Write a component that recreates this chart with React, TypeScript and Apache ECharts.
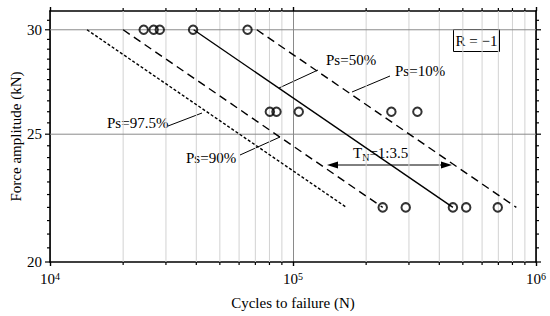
import React, { useEffect, useRef } from "react";
import * as echarts from "echarts";

const FONT = "Liberation Serif, serif";

// Test results: cycles to failure at each force amplitude (kN)
const forceLevels = [30, 26, 22];
const cyclesAt30kN = [2.43e4, 2.67e4, 2.83e4, 3.88e4, 6.5e4];
const cyclesAt26kN = [8.03e4, 8.55e4, 1.056e5, 2.54e5, 3.25e5];
const cyclesAt22kN = [2.34e5, 2.91e5, 4.55e5, 5.16e5, 6.96e5];

// P-S-N curves (end points at 30 kN and 22 kN)
const curveForces = [30, 22];
const ps50Cycles = [3.9e4, 4.55e5];
const ps10Cycles = [7.1e4, 8.3e5];
const ps90Cycles = [2.0e4, 2.34e5];
const ps975Cycles = [1.42e4, 1.66e5];

// Axis ticks
const xMinorTicks = [2e4, 3e4, 4e4, 5e4, 6e4, 7e4, 8e4, 9e4, 2e5, 3e5, 4e5, 5e5, 6e5, 7e5, 8e5, 9e5];
const yTickLabels = [20, 25, 30];
const yMinorTicks = [20.5, 21, 21.5, 22, 22.5, 23, 23.5, 24, 24.5, 25.5, 26, 26.5, 27, 27.5, 28, 28.5, 29, 29.5, 30.5];
const yGridLines = [25, 30];

const X_MIN = 1e4;
const X_MAX = 1e6;
const Y_MIN = 20;
const Y_MAX = 31;

const pts = (cycles: number[], f: number) => cycles.map((c) => [c, f]);
const curve = (cycles: number[]) => cycles.map((c, i) => [c, curveForces[i]]);

export default function App() {
  const ref = useRef<HTMLDivElement>(null);
  useEffect(() => {
    if (!ref.current) return;
    const chart = echarts.init(ref.current, undefined, { renderer: "svg" });
    const tickStyle = { stroke: "#000", lineWidth: 1.2 };
    const lineSeries = (name: string, cycles: number[], type: any) => ({
      name,
      type: "line",
      data: curve(cycles),
      symbol: "none",
      z: 3,
      lineStyle: { color: "#000", width: 1.4, type },
      silent: true,
    });
    const scatterData = [
      ...pts(cyclesAt30kN, forceLevels[0]),
      ...pts(cyclesAt26kN, forceLevels[1]),
      ...pts(cyclesAt22kN, forceLevels[2]),
    ];
    const txt = (text: string, x: number, y: number) => ({
      type: "text",
      style: {
        text,
        x,
        y,
        fontFamily: FONT,
        fontSize: 15,
        fill: "#000",
        verticalAlign: "middle",
        textVerticalAlign: "middle",
      },
    });
    const option: any = {
      animation: false,
      backgroundColor: "#fff",
      textStyle: { fontFamily: FONT },
      grid: { left: 48, top: 11, width: 488, height: 251, containLabel: false },
      xAxis: [
        {
          type: "log",
          logBase: 10,
          min: X_MIN,
          max: X_MAX,
          position: "bottom",
          name: "Cycles to failure (N)",
          nameLocation: "middle",
          nameGap: 33,
          nameTextStyle: { fontFamily: FONT, fontSize: 15, color: "#000" },
          axisLine: { show: true, onZero: false, lineStyle: { color: "#000", width: 1.6 } },
          axisTick: { show: true, inside: false, length: 4, lineStyle: { color: "#000", width: 1.4 } },
          splitLine: { show: true, lineStyle: { color: "#8a8a8a", width: 1 } },
          minorTick: { show: false },
          axisLabel: {
            margin: 9,
            showMinLabel: true,
            showMaxLabel: true,
            formatter: (v: number) => `{b|10}{s|${Math.round(Math.log10(v))}}`,
            rich: {
              b: { fontFamily: FONT, fontSize: 15, color: "#000", lineHeight: 16 },
              s: { fontFamily: FONT, fontSize: 10, color: "#000", lineHeight: 9, verticalAlign: "top" },
            },
          },
        },
        {
          type: "log",
          logBase: 10,
          min: X_MIN,
          max: X_MAX,
          position: "top",
          axisLine: { show: true, onZero: false, lineStyle: { color: "#000", width: 1.6 } },
          axisTick: { show: true, inside: false, length: 4, lineStyle: { color: "#000", width: 1.4 } },
          splitLine: { show: false },
          axisLabel: { show: false },
        },
      ],
      yAxis: [
        {
          type: "log",
          logBase: 10,
          min: Y_MIN,
          max: Y_MAX,
          position: "left",
          name: "Force amplitude (kN)",
          nameLocation: "middle",
          nameGap: 27,
          nameTextStyle: { fontFamily: FONT, fontSize: 15, color: "#000" },
          axisLine: { show: true, onZero: false, lineStyle: { color: "#000", width: 1.6 } },
          axisTick: { show: false },
          axisLabel: { show: false },
          splitLine: { show: false },
        },
        {
          type: "log",
          logBase: 10,
          min: Y_MIN,
          max: Y_MAX,
          position: "right",
          axisLine: { show: true, onZero: false, lineStyle: { color: "#000", width: 1.6 } },
          axisTick: { show: false },
          axisLabel: { show: false },
          splitLine: { show: false },
        },
      ],
      series: [
        {
          type: "custom",
          silent: true,
          clip: false,
          z: 1,
          data: xMinorTicks.map((v) => [v, Y_MIN]),
          renderItem: (_p: any, api: any) => {
            const v = api.value(0);
            const b = api.coord([v, Y_MIN]);
            const t = api.coord([v, Y_MAX]);
            return {
              type: "group",
              children: [
                { type: "line", shape: { x1: b[0], y1: t[1], x2: b[0], y2: b[1] }, style: { stroke: "#d2d2d2", lineWidth: 1 } },
                { type: "line", shape: { x1: b[0], y1: b[1], x2: b[0], y2: b[1] + 3 }, style: tickStyle },
                { type: "line", shape: { x1: t[0], y1: t[1] - 3, x2: t[0], y2: t[1] }, style: tickStyle },
              ],
            };
          },
        },
        {
          type: "custom",
          silent: true,
          clip: false,
          z: 1,
          data: yGridLines.map((v) => [X_MIN, v]),
          renderItem: (_p: any, api: any) => {
            const v = api.value(1);
            const l = api.coord([X_MIN, v]);
            const r = api.coord([X_MAX, v]);
            return { type: "line", shape: { x1: l[0], y1: l[1], x2: r[0], y2: r[1] }, style: { stroke: "#8a8a8a", lineWidth: 1 } };
          },
        },
        {
          type: "custom",
          silent: true,
          clip: false,
          z: 5,
          data: yMinorTicks.map((v) => [X_MIN, v]),
          renderItem: (_p: any, api: any) => {
            const v = api.value(1);
            const l = api.coord([X_MIN, v]);
            const r = api.coord([X_MAX, v]);
            return {
              type: "group",
              children: [
                { type: "line", shape: { x1: l[0] - 3, y1: l[1], x2: l[0], y2: l[1] }, style: tickStyle },
                { type: "line", shape: { x1: r[0], y1: r[1], x2: r[0] + 3, y2: r[1] }, style: tickStyle },
              ],
            };
          },
        },
        {
          type: "custom",
          silent: true,
          clip: false,
          z: 5,
          data: yTickLabels.map((v) => [X_MIN, v]),
          renderItem: (_p: any, api: any) => {
            const v = api.value(1);
            const l = api.coord([X_MIN, v]);
            const r = api.coord([X_MAX, v]);
            return {
              type: "group",
              children: [
                { type: "line", shape: { x1: l[0] - 5, y1: l[1], x2: l[0], y2: l[1] }, style: tickStyle },
                { type: "line", shape: { x1: r[0], y1: r[1], x2: r[0] + 5, y2: r[1] }, style: tickStyle },
                {
                  type: "text",
                  style: {
                    text: String(v),
                    x: l[0] - 8,
                    y: l[1],
                    align: "right",
                    verticalAlign: "middle",
                    textAlign: "right",
                    textVerticalAlign: "middle",
                    fontFamily: FONT,
                    fontSize: 15,
                    fill: "#000",
                  },
                },
              ],
            };
          },
        },
        lineSeries("Ps=97.5%", ps975Cycles, [3, 2]),
        lineSeries("Ps=90%", ps90Cycles, [8, 5]),
        lineSeries("Ps=50%", ps50Cycles, "solid"),
        lineSeries("Ps=10%", ps10Cycles, [8, 5]),
        {
          name: "Tests",
          type: "scatter",
          z: 4,
          symbol: "circle",
          symbolSize: 8.5,
          data: scatterData,
          itemStyle: { color: "rgba(255,255,255,0)", borderColor: "#000", borderWidth: 2 },
          silent: true,
        },
      ],
      graphic: [
        txt("Ps=50%", 326, 60),
        { type: "line", shape: { x1: 318, y1: 70, x2: 279, y2: 88 }, style: { stroke: "#000", lineWidth: 1 } },
        txt("Ps=10%", 395, 71),
        { type: "line", shape: { x1: 390, y1: 76, x2: 352, y2: 92 }, style: { stroke: "#000", lineWidth: 1 } },
        txt("Ps=97.5%", 107, 123),
        { type: "line", shape: { x1: 168, y1: 126, x2: 202, y2: 113 }, style: { stroke: "#000", lineWidth: 1 } },
        txt("Ps=90%", 186, 158),
        { type: "line", shape: { x1: 240, y1: 155, x2: 280, y2: 137 }, style: { stroke: "#000", lineWidth: 1 } },
        {
          type: "text",
          style: {
            text: "{t|T}{n|N}{t|=1:3.5}",
            x: 353,
            y: 153,
            verticalAlign: "middle",
            textVerticalAlign: "middle",
            rich: {
              t: { fontFamily: FONT, fontSize: 15, fill: "#000", color: "#000", lineHeight: 18 },
              n: { fontFamily: FONT, fontSize: 10, fill: "#000", color: "#000", lineHeight: 11, verticalAlign: "bottom" },
            },
          },
        },
        { type: "line", shape: { x1: 332, y1: 165, x2: 447, y2: 165 }, style: { stroke: "#000", lineWidth: 1 } },
        { type: "polygon", shape: { points: [[327, 165], [338, 161.5], [338, 168.5]] }, style: { fill: "#000" } },
        { type: "polygon", shape: { points: [[452, 165], [441, 161.5], [441, 168.5]] }, style: { fill: "#000" } },
        {
          type: "group",
          z: 10,
          children: [
            { type: "rect", shape: { x: 453.5, y: 29.5, width: 46, height: 22 }, style: { fill: "#fff", stroke: "#000", lineWidth: 1 } },
            {
              type: "text",
              style: {
                text: "R = \u22121",
                x: 476.5,
                y: 40.5,
                align: "center",
                verticalAlign: "middle",
                textAlign: "center",
                textVerticalAlign: "middle",
                fontFamily: FONT,
                fontSize: 15,
                fill: "#000",
              },
            },
          ],
        },
      ],
    };
    chart.setOption(option);
    return () => chart.dispose();
  }, []);
  return (
    <div
      ref={ref}
      style={{ position: "fixed", left: 0, top: 0, width: 550, height: 316, background: "#fff" }}
    />
  );
}
